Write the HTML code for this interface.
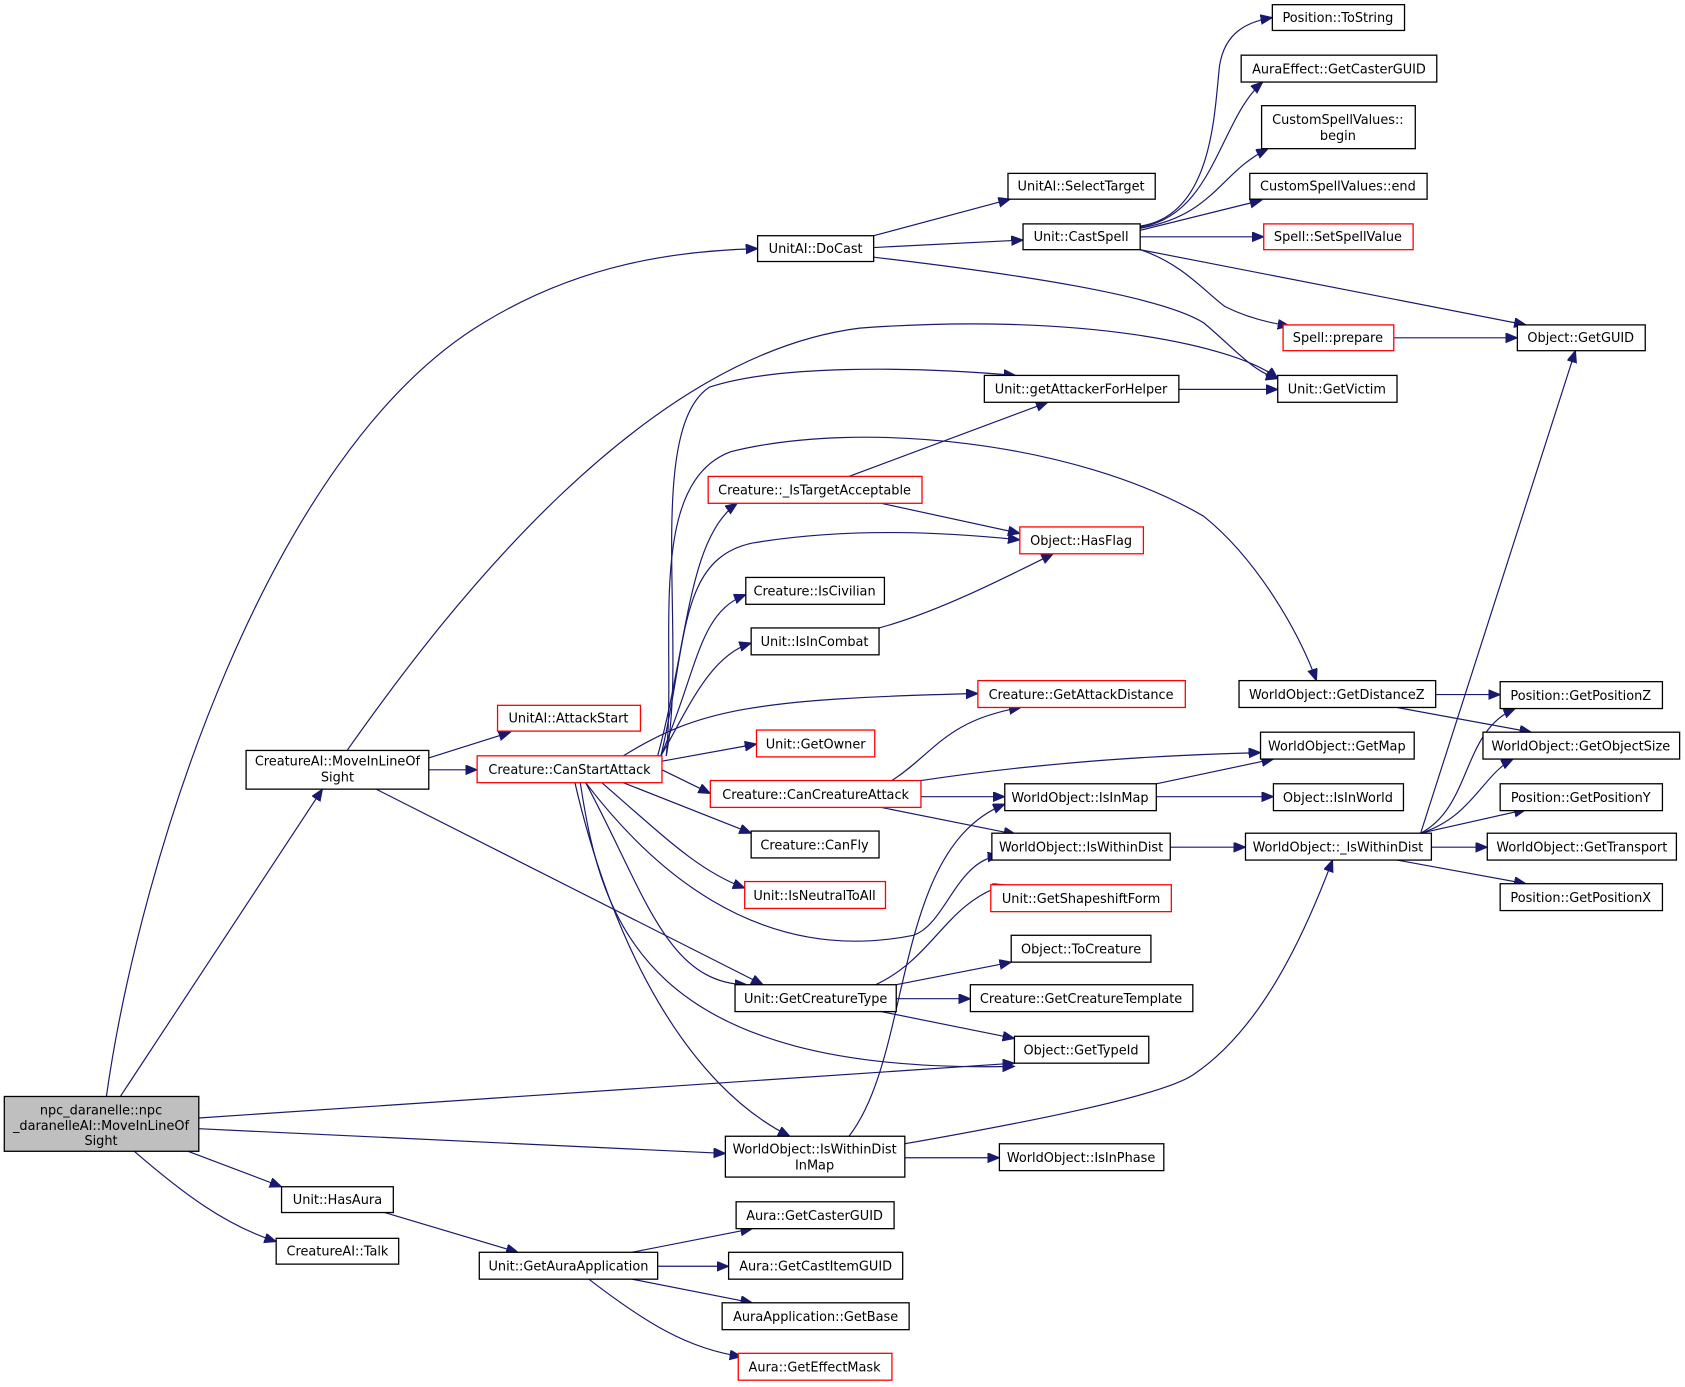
<!DOCTYPE html>
<html><head><meta charset="utf-8"><style>
html,body{margin:0;padding:0;background:#fff;width:1685px;height:1387px;overflow:hidden}
svg{display:block}
text{font-family:"DejaVu Sans","Liberation Sans",sans-serif;font-size:12px;fill:#000;text-anchor:middle}
.b{fill:#fff;stroke:#000;stroke-width:1.2}
.r{fill:#fff;stroke:#ff0000;stroke-width:1.2}
.g{fill:#bfbfbf;stroke:#000;stroke-width:1.2}
path.e{fill:none;stroke:#191970;stroke-width:1.1}
</style></head><body>
<svg width="1685" height="1387" viewBox="0 0 1568 1290" xmlns="http://www.w3.org/2000/svg">
<defs><marker id="a" markerUnits="userSpaceOnUse" markerWidth="12" markerHeight="10" refX="11" refY="4.5" orient="auto"><path d="M0,0 L11,4.5 L0,9 z" fill="#191970" stroke="#191970"/></marker></defs>
<g marker-end="url(#a)">
<path class="e" d="M99,1020 C130,800 250,420 450,300 C540,245 630,233 705,231"/>
<path class="e" d="M112,1020 L300,734"/>
<path class="e" d="M185,1040 L944,989"/>
<path class="e" d="M185,1050 L675,1073"/>
<path class="e" d="M175,1071 L262,1104"/>
<path class="e" d="M125,1071 C170,1110 210,1140 257,1155"/>
<path class="e" d="M358,1128 L482,1165"/>
<path class="e" d="M588,1165 L700,1143"/>
<path class="e" d="M612,1178 L678,1178"/>
<path class="e" d="M588,1190 L700,1212"/>
<path class="e" d="M548,1190 C600,1230 640,1255 690,1262"/>
<path class="e" d="M323,698 C420,560 600,330 800,305 C1000,290 1150,320 1189,352"/>
<path class="e" d="M399,705 L475,681"/>
<path class="e" d="M399,716 L444,716"/>
<path class="e" d="M350,734 L710,916"/>
<path class="e" d="M813,219 L940,185"/>
<path class="e" d="M813,230 L952,223"/>
<path class="e" d="M813,239 C950,255 1080,275 1120,300 C1150,325 1165,345 1189,352"/>
<path class="e" d="M1061,210 C1130,200 1130,100 1135,60 C1140,30 1160,20 1184,16"/>
<path class="e" d="M1061,211 C1130,200 1135,110 1175,76"/>
<path class="e" d="M1061,212 C1130,200 1135,160 1180,138"/>
<path class="e" d="M1061,214 L1174,186"/>
<path class="e" d="M1061,220 L1176,220"/>
<path class="e" d="M1061,232 L1420,302"/>
<path class="e" d="M1061,232 C1100,245 1120,270 1140,285 C1160,295 1180,300 1200,303"/>
<path class="e" d="M1297,314 L1412,314"/>
<path class="e" d="M1097,362 L1189,362"/>
<path class="e" d="M620,703 C640,600 600,400 660,360 C720,340 840,340 945,349"/>
<path class="e" d="M620,703 C630,600 600,450 680,420 C800,390 1000,410 1120,480 C1170,520 1210,590 1225,633"/>
<path class="e" d="M612,703 C640,600 640,500 686,468"/>
<path class="e" d="M615,703 C640,600 630,520 700,505 C790,490 880,495 949,502"/>
<path class="e" d="M615,703 C650,620 650,570 694,553"/>
<path class="e" d="M615,703 C640,660 660,610 699,598"/>
<path class="e" d="M580,703 C650,660 700,650 910,645"/>
<path class="e" d="M616,708 L704,692"/>
<path class="e" d="M616,716 L661,738"/>
<path class="e" d="M580,728 L699,775"/>
<path class="e" d="M560,728 C620,780 650,810 693,826"/>
<path class="e" d="M545,728 C600,800 700,900 850,870 C880,860 890,800 930,796"/>
<path class="e" d="M545,728 C600,830 620,915 695,916"/>
<path class="e" d="M540,728 C560,860 600,1000 944,992"/>
<path class="e" d="M535,728 C570,880 640,1010 735,1057"/>
<path class="e" d="M790,443 L975,374"/>
<path class="e" d="M820,468 L949,496"/>
<path class="e" d="M818,584 C870,570 930,540 980,515"/>
<path class="e" d="M830,726 C870,700 880,670 950,658"/>
<path class="e" d="M857,726 C950,712 1050,703 1173,700"/>
<path class="e" d="M857,741 L935,741"/>
<path class="e" d="M820,751 L945,776"/>
<path class="e" d="M1076,729 L1185,706"/>
<path class="e" d="M1076,741 L1185,741"/>
<path class="e" d="M1089,788 L1159,788"/>
<path class="e" d="M1336,646 L1396,646"/>
<path class="e" d="M1300,658 L1425,681"/>
<path class="e" d="M1322,775 L1466,326"/>
<path class="e" d="M1322,775 C1370,750 1360,680 1410,659"/>
<path class="e" d="M1322,775 C1370,760 1380,720 1408,706"/>
<path class="e" d="M1322,775 L1420,753"/>
<path class="e" d="M1332,788 L1384,788"/>
<path class="e" d="M1300,800 L1420,822"/>
<path class="e" d="M815,916 C870,890 880,840 935,823"/>
<path class="e" d="M834,916 L941,895"/>
<path class="e" d="M834,929 L903,929"/>
<path class="e" d="M820,941 L944,966"/>
<path class="e" d="M790,1057 C850,980 830,790 935,748"/>
<path class="e" d="M842,1064 C950,1045 1080,1020 1110,1000 C1170,960 1210,880 1240,800"/>
<path class="e" d="M842,1077 L930,1077"/>
</g>
<g>
<rect class="g" x="4" y="1020" width="181" height="51"/><text x="94" y="1037">npc_daranelle::npc</text><text x="94" y="1051">_daranelleAI::MoveInLineOf</text><text x="94" y="1065">Sight</text>
<rect class="b" x="229" y="698" width="170" height="36"/><text x="314" y="712">CreatureAI::MoveInLineOf</text><text x="314" y="727">Sight</text>
<rect class="b" x="262" y="1104" width="104" height="24"/><text x="314" y="1120">Unit::HasAura</text>
<rect class="b" x="257" y="1152" width="114" height="24"/><text x="314" y="1168">CreatureAI::Talk</text>
<rect class="b" x="446" y="1165" width="166" height="25"/><text x="529" y="1182">Unit::GetAuraApplication</text>
<rect class="b" x="705" y="219" width="108" height="24"/><text x="759" y="235">UnitAI::DoCast</text>
<rect class="r" x="463" y="656" width="133" height="24"/><text x="529" y="672">UnitAI::AttackStart</text>
<rect class="r" x="444" y="703" width="172" height="25"/><text x="530" y="720">Creature::CanStartAttack</text>
<rect class="b" x="938" y="161" width="137" height="24"/><text x="1006" y="177">UnitAI::SelectTarget</text>
<rect class="b" x="952" y="208" width="109" height="24"/><text x="1006" y="224">Unit::CastSpell</text>
<rect class="b" x="1184" y="4" width="123" height="24"/><text x="1245" y="20">Position::ToString</text>
<rect class="b" x="1155" y="51" width="182" height="25"/><text x="1246" y="68">AuraEffect::GetCasterGUID</text>
<rect class="b" x="1174" y="98" width="143" height="40"/><text x="1245" y="115">CustomSpellValues::</text><text x="1245" y="130">begin</text>
<rect class="b" x="1163" y="161" width="165" height="24"/><text x="1245" y="177">CustomSpellValues::end</text>
<rect class="r" x="1176" y="208" width="139" height="24"/><text x="1245" y="224">Spell::SetSpellValue</text>
<rect class="r" x="1194" y="302" width="103" height="24"/><text x="1245" y="318">Spell::prepare</text>
<rect class="b" x="1412" y="302" width="119" height="24"/><text x="1471" y="318">Object::GetGUID</text>
<rect class="b" x="1189" y="349" width="111" height="25"/><text x="1244" y="366">Unit::GetVictim</text>
<rect class="b" x="916" y="349" width="181" height="25"/><text x="1006" y="366">Unit::getAttackerForHelper</text>
<rect class="r" x="659" y="443" width="199" height="25"/><text x="758" y="460">Creature::_IsTargetAcceptable</text>
<rect class="r" x="949" y="490" width="115" height="25"/><text x="1006" y="507">Object::HasFlag</text>
<rect class="b" x="694" y="537" width="129" height="25"/><text x="758" y="554">Creature::IsCivilian</text>
<rect class="b" x="699" y="584" width="119" height="25"/><text x="758" y="601">Unit::IsInCombat</text>
<rect class="r" x="910" y="633" width="193" height="25"/><text x="1006" y="650">Creature::GetAttackDistance</text>
<rect class="r" x="704" y="679" width="110" height="25"/><text x="759" y="696">Unit::GetOwner</text>
<rect class="r" x="661" y="726" width="196" height="25"/><text x="759" y="743">Creature::CanCreatureAttack</text>
<rect class="b" x="699" y="773" width="119" height="25"/><text x="758" y="790">Creature::CanFly</text>
<rect class="r" x="693" y="820" width="131" height="25"/><text x="758" y="837">Unit::IsNeutralToAll</text>
<rect class="b" x="1153" y="633" width="183" height="25"/><text x="1244" y="650">WorldObject::GetDistanceZ</text>
<rect class="b" x="1173" y="681" width="143" height="25"/><text x="1244" y="698">WorldObject::GetMap</text>
<rect class="b" x="935" y="729" width="141" height="25"/><text x="1005" y="746">WorldObject::IsInMap</text>
<rect class="b" x="1185" y="729" width="121" height="25"/><text x="1245" y="746">Object::IsInWorld</text>
<rect class="b" x="923" y="775" width="166" height="25"/><text x="1006" y="792">WorldObject::IsWithinDist</text>
<rect class="b" x="1159" y="775" width="173" height="25"/><text x="1245" y="792">WorldObject::_IsWithinDist</text>
<rect class="r" x="922" y="823" width="168" height="25"/><text x="1006" y="840">Unit::GetShapeshiftForm</text>
<rect class="b" x="941" y="870" width="130" height="25"/><text x="1006" y="887">Object::ToCreature</text>
<rect class="b" x="684" y="916" width="150" height="25"/><text x="759" y="933">Unit::GetCreatureType</text>
<rect class="b" x="903" y="916" width="207" height="25"/><text x="1006" y="933">Creature::GetCreatureTemplate</text>
<rect class="b" x="944" y="964" width="125" height="25"/><text x="1006" y="981">Object::GetTypeId</text>
<rect class="b" x="675" y="1057" width="167" height="38"/><text x="758" y="1073">WorldObject::IsWithinDist</text><text x="758" y="1088">InMap</text>
<rect class="b" x="930" y="1064" width="153" height="25"/><text x="1006" y="1081">WorldObject::IsInPhase</text>
<rect class="b" x="1396" y="634" width="151" height="25"/><text x="1471" y="651">Position::GetPositionZ</text>
<rect class="b" x="1380" y="681" width="183" height="25"/><text x="1471" y="698">WorldObject::GetObjectSize</text>
<rect class="b" x="1396" y="729" width="151" height="25"/><text x="1471" y="746">Position::GetPositionY</text>
<rect class="b" x="1384" y="775" width="176" height="25"/><text x="1472" y="792">WorldObject::GetTransport</text>
<rect class="b" x="1396" y="822" width="151" height="25"/><text x="1471" y="839">Position::GetPositionX</text>
<rect class="b" x="685" y="1118" width="147" height="25"/><text x="758" y="1135">Aura::GetCasterGUID</text>
<rect class="b" x="678" y="1165" width="162" height="25"/><text x="759" y="1182">Aura::GetCastItemGUID</text>
<rect class="b" x="672" y="1212" width="174" height="25"/><text x="759" y="1229">AuraApplication::GetBase</text>
<rect class="r" x="687" y="1259" width="143" height="25"/><text x="758" y="1276">Aura::GetEffectMask</text>
</g>
</svg>
</body></html>
